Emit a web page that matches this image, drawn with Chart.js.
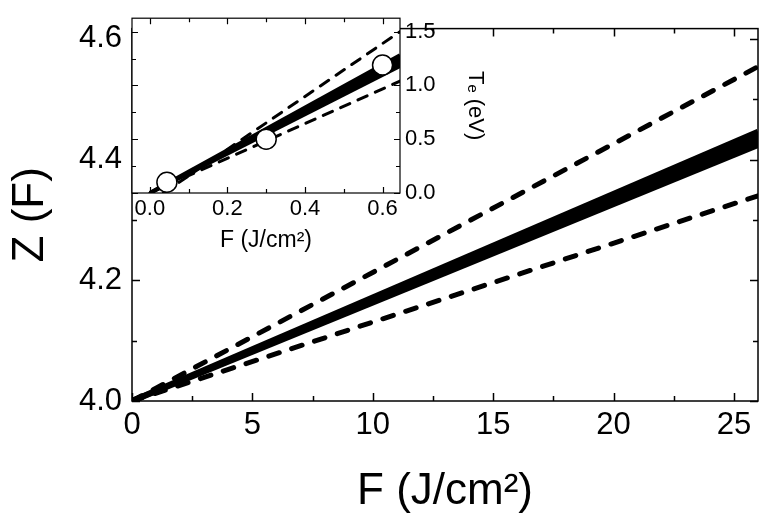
<!DOCTYPE html>
<html>
<head>
<meta charset="utf-8">
<script src="https://cdn.jsdelivr.net/npm/chart.js@4.4.1/dist/chart.umd.min.js"></script>
<style>
  body { margin: 0; background: #fff; overflow: hidden; }
  #wrap { position: relative; width: 767px; height: 524px; }
  #inset { position: absolute; left: 0; top: 0; }
</style>
</head>
<body>
<div id="wrap">
  <canvas id="main" width="767" height="524"></canvas>
  <canvas id="inset" width="500" height="260"></canvas>
</div>
<script>
// main panel: Z(F) vs fluence
var mainF = [0, 26];
var zBandTop = [4.0, 4.446];
var zBandBottom = [4.0, 4.424];
var zDashTop = [4.0, 4.554];
var zDashBottom = [4.0, 4.340];
var mainXTicks = [0, 5, 10, 15, 20, 25];
var mainXMinor = [2.5, 7.5, 12.5, 17.5, 22.5];
var mainYTicks = [4.0, 4.2, 4.4, 4.6];
var mainYMinor = [4.1, 4.3, 4.5];

// inset: Te vs fluence
var insetF = [0, 0.645];
var teBandTop = [0, 1.28];
var teBandBottom = [0, 1.18];
var teDashTopF = [0.035, 0.645];
var teDashTop = [0, 1.5];
var teDashBottomF = [0, 0.645];
var teDashBottom = [0, 1.04];
var tePointsF = [0.044, 0.30, 0.60];
var tePoints = [0.10, 0.50, 1.19];
var insetXTicks = [0.0, 0.2, 0.4, 0.6];
var insetXMinor = [0.1, 0.3, 0.5];
var insetYTicks = [0.0, 0.5, 1.0, 1.5];
var insetYMinor = [0.25, 0.75, 1.25];

var FONT = "'Liberation Sans', Arial, sans-serif";

function pts(xs, ys) {
    return xs.map(function (x, i) { return { x: x, y: ys[i] }; });
}

function fixedTicks(list) {
    return function (scale) {
        scale.ticks = list.map(function (v) { return { value: v }; });
    };
}

// box frame with inward ticks on all four sides
var frameTicks = {
    id: 'frameTicks',
    beforeDraw: function (chart, args, opts) {
        if (!opts.fillArea) return;
        var a = chart.chartArea, ctx = chart.ctx;
        ctx.save();
        ctx.fillStyle = '#fff';
        ctx.fillRect(a.left, a.top, a.right - a.left, a.bottom - a.top);
        ctx.restore();
    },
    afterDatasetsDraw: function (chart, args, opts) {
        if (!opts.xMajor) return;
        var a = chart.chartArea, ctx = chart.ctx;
        var xs = chart.scales.x, ys = chart.scales.y;
        ctx.save();
        ctx.strokeStyle = '#000';
        ctx.lineWidth = opts.width;
        ctx.beginPath();
        function xt(list, len) {
            list.forEach(function (v) {
                var p = Math.round(xs.getPixelForValue(v)) + 0.5;
                ctx.moveTo(p, a.bottom); ctx.lineTo(p, a.bottom - len);
                ctx.moveTo(p, a.top); ctx.lineTo(p, a.top + len);
            });
        }
        function yt(list, len) {
            list.forEach(function (v) {
                var p = Math.round(ys.getPixelForValue(v)) + 0.5;
                ctx.moveTo(a.left, p); ctx.lineTo(a.left + len, p);
                ctx.moveTo(a.right, p); ctx.lineTo(a.right - len, p);
            });
        }
        xt(opts.xMajor, opts.major); xt(opts.xMinor, opts.minor);
        yt(opts.yMajor, opts.major); yt(opts.yMinor, opts.minor);
        ctx.stroke();
        ctx.strokeRect(a.left, a.top, a.right - a.left, a.bottom - a.top);
        ctx.restore();
    }
};

function bandSet(data, fill, width) {
    return {
        data: data, showLine: true, pointRadius: 0,
        borderColor: '#000', backgroundColor: '#000',
        borderWidth: width, fill: fill
    };
}

function dashSet(data, width, dash) {
    return {
        data: data, showLine: true, pointRadius: 0,
        borderColor: '#000', borderWidth: width,
        borderDash: dash, borderCapStyle: 'round', fill: false
    };
}

new Chart(document.getElementById('main'), {
    type: 'scatter',
    data: {
        datasets: [
            bandSet(pts(mainF, zBandTop), '+1', 6),
            bandSet(pts(mainF, zBandBottom), false, 6),
            dashSet(pts(mainF, zDashTop), 5, [11, 13]),
            dashSet(pts(mainF, zDashBottom), 5, [11, 13])
        ]
    },
    options: {
        responsive: false,
        animation: false,
        events: [],
        layout: { padding: { top: 10, right: 9, left: 0, bottom: 0 } },
        plugins: {
            legend: { display: false },
            tooltip: { enabled: false },
            frameTicks: {
                xMajor: mainXTicks, xMinor: mainXMinor,
                yMajor: mainYTicks, yMinor: mainYMinor,
                major: 8, minor: 5, width: 1.5
            }
        },
        scales: {
            x: {
                type: 'linear', min: 0, max: 26,
                afterBuildTicks: fixedTicks(mainXTicks),
                afterFit: function (s) { s.height = 123; },
                grid: { display: false, drawTicks: false },
                border: { display: false },
                ticks: {
                    padding: 6, color: '#000', maxRotation: 0,
                    font: { family: FONT, size: 31 },
                    callback: function (v) { return String(v); }
                },
                title: {
                    display: true, text: 'F (J/cm²)', color: '#000',
                    font: { family: FONT, size: 44 },
                    padding: { top: 0, bottom: 6 }
                }
            },
            y: {
                type: 'linear', min: 4.0, max: 4.617,
                afterBuildTicks: fixedTicks(mainYTicks),
                afterFit: function (s) { s.width = 132; },
                grid: { display: false, drawTicks: false },
                border: { display: false },
                ticks: {
                    padding: 10, color: '#000',
                    font: { family: FONT, size: 31 },
                    callback: function (v) { return v.toFixed(1); }
                },
                title: {
                    display: true, text: 'Z (F)', color: '#000',
                    font: { family: FONT, size: 44 },
                    padding: { top: 4, bottom: 0 }
                }
            }
        }
    },
    plugins: [frameTicks]
});

var circles = {
    data: pts(tePointsF, tePoints), showLine: false, order: -1,
    pointRadius: 10, pointBorderWidth: 1.5,
    pointBackgroundColor: '#fff', pointBorderColor: '#000'
};

new Chart(document.getElementById('inset'), {
    type: 'scatter',
    data: {
        datasets: [
            bandSet(pts(insetF, teBandTop), '+1', 4),
            bandSet(pts(insetF, teBandBottom), false, 4),
            dashSet(pts(teDashTopF, teDashTop), 3, [10, 9]),
            dashSet(pts(teDashBottomF, teDashBottom), 3, [10, 9]),
            circles
        ]
    },
    options: {
        responsive: false,
        animation: false,
        events: [],
        layout: { padding: { top: 10, right: 0, left: 132, bottom: 0 } },
        plugins: {
            legend: { display: false },
            tooltip: { enabled: false },
            frameTicks: {
                fillArea: true,
                xMajor: insetXTicks, xMinor: insetXMinor,
                yMajor: insetYTicks, yMinor: insetYMinor,
                major: 6, minor: 4, width: 1.2
            }
        },
        scales: {
            x: {
                type: 'linear', min: -0.046, max: 0.645,
                afterBuildTicks: fixedTicks(insetXTicks),
                afterFit: function (s) { s.height = 67; },
                grid: { display: false, drawTicks: false },
                border: { display: false },
                ticks: {
                    padding: 3, color: '#000', maxRotation: 0,
                    font: { family: FONT, size: 22 },
                    callback: function (v) { return v.toFixed(1); }
                },
                title: {
                    display: true, text: 'F (J/cm²)', color: '#000',
                    font: { family: FONT, size: 23 },
                    padding: { top: 0, bottom: 6 }
                }
            },
            y: {
                type: 'linear', position: 'right', min: 0, max: 1.625,
                afterBuildTicks: fixedTicks(insetYTicks),
                afterFit: function (s) { s.width = 100; },
                grid: { display: false, drawTicks: false },
                border: { display: false },
                ticks: {
                    padding: 5, color: '#000',
                    font: { family: FONT, size: 22 },
                    callback: function (v) { return v.toFixed(1); }
                },
                title: {
                    display: true, text: 'Tₑ (eV)', color: '#000',
                    font: { family: FONT, size: 22 },
                    padding: { top: 12, bottom: 0 }
                }
            }
        }
    },
    plugins: [frameTicks]
});
</script>
</body>
</html>
